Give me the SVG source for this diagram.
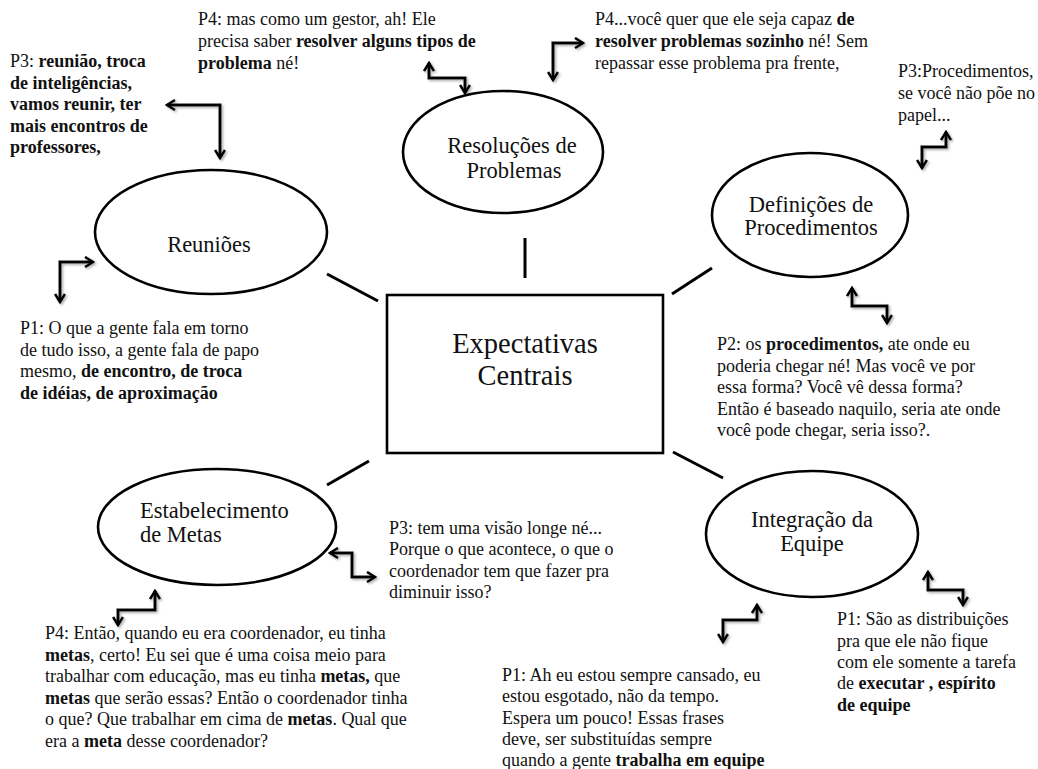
<svg xmlns="http://www.w3.org/2000/svg" width="1038" height="769" viewBox="0 0 1038 769">
<style>
  .q { font-family: "Liberation Serif", "Times New Roman", serif; font-size: 18px; fill: #111; }
  .b { font-weight: bold; }
  .lbl { font-family: "Liberation Serif", "Times New Roman", serif; font-size: 22.5px; fill: #111; text-anchor: middle; }
  .ctr { font-family: "Liberation Serif", "Times New Roman", serif; font-size: 28.5px; fill: #111; text-anchor: middle; }
  .shape { fill: #fff; stroke: #000; stroke-width: 2.6; }
  .link { stroke: #000; stroke-width: 3; fill: none; }
  .arr { stroke: #000; stroke-width: 3; fill: none; marker-start: url(#ah); marker-end: url(#ah); filter: url(#sh); }
</style>
<defs>
  <marker id="ah" viewBox="0 0 12 12" refX="10" refY="6" markerWidth="12" markerHeight="12" markerUnits="userSpaceOnUse" orient="auto-start-reverse">
    <path d="M2,1 L10,6 L2,11" fill="none" stroke="#000" stroke-width="2.6"/>
  </marker>
  <filter id="sh" x="-30%" y="-30%" width="160%" height="160%">
    <feDropShadow dx="1.5" dy="1.5" stdDeviation="1" flood-color="#777" flood-opacity="0.6"/>
  </filter>
</defs>
<rect width="1038" height="769" fill="#fff"/>

<g id="connectors">
  <line class="link" x1="525" y1="238" x2="525" y2="278"/>
  <line class="link" x1="327" y1="274" x2="378" y2="301"/>
  <line class="link" x1="672" y1="294" x2="712" y2="268"/>
  <line class="link" x1="369" y1="461" x2="327" y2="485"/>
  <line class="link" x1="673" y1="452" x2="723" y2="478"/>
  <polyline class="arr" points="167,105 220,105 220,158"/>
  <polyline class="arr" points="429,63 429,78 465,78 465,93"/>
  <polyline class="arr" points="583,43 553,43 553,80"/>
  <polyline class="arr" points="946,132 946,147 922,147 922,168"/>
  <polyline class="arr" points="93,262 60,262 60,302"/>
  <polyline class="arr" points="852,288 852,306 887,306 887,323"/>
  <polyline class="arr" points="330,553 352,553 352,577 375,577"/>
  <polyline class="arr" points="118,625 118,610 155,610 155,591"/>
  <polyline class="arr" points="757,605 757,620 723,620 723,642"/>
  <polyline class="arr" points="928,572 928,590 963,590 963,605"/>
</g>

<g id="center">
  <rect class="shape" x="387" y="295" width="276" height="158" stroke-width="3"/>
  <text class="ctr" x="525" y="353">Expectativas</text>
  <text class="ctr" x="525" y="385">Centrais</text>
</g>

<g id="resolucoes">
  <ellipse class="shape" cx="503" cy="152" rx="100" ry="61"/>
  <text class="lbl" x="512" y="153">Resoluções de</text>
  <text class="lbl" x="514" y="178">Problemas</text>
</g>

<g id="reunioes">
  <ellipse class="shape" cx="211" cy="232" rx="116" ry="62"/>
  <text class="lbl" x="209" y="252">Reuniões</text>
</g>

<g id="definicoes">
  <ellipse class="shape" cx="810" cy="215" rx="98" ry="62"/>
  <text class="lbl" x="811" y="212">Definições de</text>
  <text class="lbl" x="811" y="235">Procedimentos</text>
</g>

<g id="estabelecimento">
  <ellipse class="shape" cx="217" cy="527" rx="119" ry="58"/>
  <text class="lbl" x="140" y="518" style="text-anchor:start">Estabelecimento</text>
  <text class="lbl" x="140" y="542" style="text-anchor:start">de Metas</text>
</g>

<g id="integracao">
  <ellipse class="shape" cx="812" cy="534" rx="106" ry="63"/>
  <text class="lbl" x="812" y="527">Integração da</text>
  <text class="lbl" x="812" y="551">Equipe</text>
</g>

<g id="note-p3-reuniao">
  <text class="q" x="10" y="67">P3: <tspan class="b">reunião, troca</tspan></text>
  <text class="q b" x="10" y="88.5">de inteligências,</text>
  <text class="q b" x="10" y="110">vamos reunir, ter</text>
  <text class="q b" x="10" y="131.5">mais encontros de</text>
  <text class="q b" x="10" y="153">professores,</text>
</g>

<g id="note-p4-gestor">
  <text class="q" x="198" y="25">P4: mas como um gestor, ah! Ele</text>
  <text class="q" x="198" y="47">precisa saber <tspan class="b">resolver alguns tipos de</tspan></text>
  <text class="q" x="198" y="69"><tspan class="b">problema</tspan> né!</text>
</g>

<g id="note-p4-sozinho">
  <text class="q" x="595" y="25">P4...você quer que ele seja capaz <tspan class="b">de</tspan></text>
  <text class="q" x="595" y="47"><tspan class="b">resolver problemas sozinho</tspan> né! Sem</text>
  <text class="q" x="595" y="69">repassar esse problema pra frente,</text>
</g>

<g id="note-p3-procedimentos">
  <text class="q" x="898" y="77">P3:Procedimentos,</text>
  <text class="q" x="898" y="99">se você não põe no</text>
  <text class="q" x="898" y="121">papel...</text>
</g>

<g id="note-p1-encontro">
  <text class="q" x="20" y="334">P1: O que a gente fala em torno</text>
  <text class="q" x="20" y="356">de tudo isso, a gente fala de papo</text>
  <text class="q" x="20" y="377">mesmo, <tspan class="b">de encontro, de troca</tspan></text>
  <text class="q b" x="20" y="399">de idéias, de aproximação</text>
</g>

<g id="note-p2-procedimentos">
  <text class="q" x="717" y="350">P2: os <tspan class="b">procedimentos,</tspan> ate onde eu</text>
  <text class="q" x="717" y="372">poderia chegar né! Mas você ve por</text>
  <text class="q" x="717" y="393">essa forma? Você vê dessa forma?</text>
  <text class="q" x="717" y="415">Então é baseado naquilo, seria ate onde</text>
  <text class="q" x="717" y="436">você pode chegar, seria isso?.</text>
</g>

<g id="note-p3-visao">
  <text class="q" x="389" y="534">P3: tem uma visão longe né...</text>
  <text class="q" x="389" y="555">Porque o que acontece, o que o</text>
  <text class="q" x="389" y="577">coordenador tem que fazer pra</text>
  <text class="q" x="389" y="598">diminuir isso?</text>
</g>

<g id="note-p4-metas">
  <text class="q" x="45" y="639">P4: Então, quando eu era coordenador, eu tinha</text>
  <text class="q" x="45" y="661"><tspan class="b">metas</tspan>, certo! Eu sei que é uma coisa meio para</text>
  <text class="q" x="45" y="682">trabalhar com educação, mas eu tinha <tspan class="b">metas,</tspan> que</text>
  <text class="q" x="45" y="704"><tspan class="b">metas</tspan> que serão essas? Então o coordenador tinha</text>
  <text class="q" x="45" y="725">o que? Que trabalhar em cima de <tspan class="b">metas</tspan>. Qual que</text>
  <text class="q" x="45" y="747">era a <tspan class="b">meta</tspan> desse coordenador?</text>
</g>

<g id="note-p1-equipe">
  <text class="q" x="502" y="681">P1: Ah eu estou sempre cansado, eu</text>
  <text class="q" x="502" y="702">estou esgotado, não da tempo.</text>
  <text class="q" x="502" y="724">Espera um pouco! Essas frases</text>
  <text class="q" x="502" y="745">deve, ser substituídas sempre</text>
  <text class="q" x="502" y="766">quando a gente <tspan class="b">trabalha em equipe</tspan></text>
</g>

<g id="note-p1-distribuicoes">
  <text class="q" x="837" y="625">P1: São as distribuições</text>
  <text class="q" x="837" y="647">pra que ele não fique</text>
  <text class="q" x="837" y="668">com ele somente a tarefa</text>
  <text class="q" x="837" y="689">de <tspan class="b">executar , espírito</tspan></text>
  <text class="q b" x="837" y="711">de equipe</text>
</g>
</svg>
